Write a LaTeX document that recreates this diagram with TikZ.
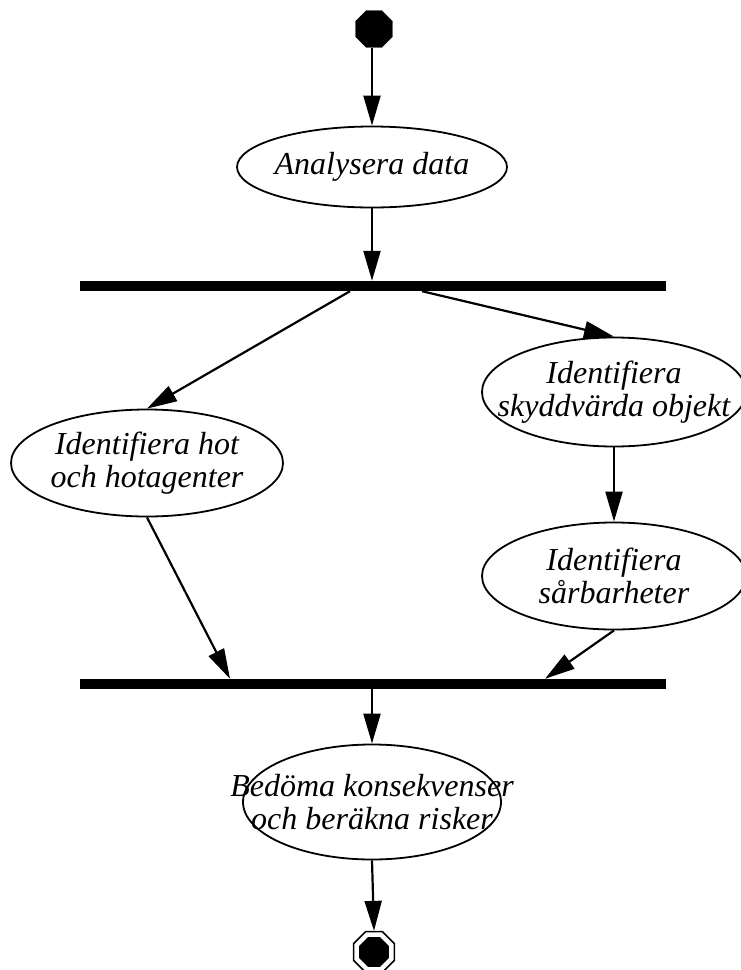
\documentclass[tikz,border=0pt]{standalone}
\usepackage{fontspec}
\setmainfont{Liberation Serif}
\usetikzlibrary{shapes.geometric,arrows.meta,calc}
\begin{document}
\begin{tikzpicture}[x=1pt,y=-1pt,
  % the outline size is fixed by minimum width/height; the text may run over it
  activity/.style={ellipse,draw,line width=1.8pt,inner xsep=-90pt,inner ysep=-30pt,
    font=\fontsize{32}{33}\selectfont\itshape,align=center},
  syncbar/.style={rectangle,fill=black,inner sep=0pt,minimum width=586pt,minimum height=10pt},
  flow/.style={line width=2.2pt,-{Triangle[length=30pt,width=17pt]}},
  startnode/.style={regular polygon,regular polygon sides=8,fill=black,draw,
    minimum size=40pt,inner sep=0pt},
]
\useasboundingbox (0,0) rectangle (741,970);

\node[startnode] (start) at (374,29) {};
\node[activity,minimum width=270pt,minimum height=81pt] (analys) at (372,167) {Analysera data};
\node[syncbar] (fork) at (373,286) {};
\node[activity,minimum width=272pt,minimum height=107pt] (hot) at (147,463) {Identifiera hot\\och hotagenter};
\node[activity,minimum width=264pt,minimum height=109pt] (skydd) at (614,392) {Identifiera\\skyddvärda objekt};
\node[activity,minimum width=264pt,minimum height=107pt] (sarb) at (614,576) {Identifiera\\sårbarheter};
\node[syncbar] (join) at (373,684) {};
\node[activity,minimum width=258pt,minimum height=115pt] (bedom) at (372,802) {Bedöma konsekvenser\\och beräkna risker};

% end state: ring round a filled octagon
\node[regular polygon,regular polygon sides=8,draw,line width=1.6pt,
  minimum size=44pt,inner sep=0pt] (stop) at (374,952) {};
\node[regular polygon,regular polygon sides=8,fill=black,
  minimum size=32pt,inner sep=0pt] (stopcore) at (stop.center) {};

\draw[flow] (start.south -| 372,0) -- (analys.north);
\draw[flow] (analys.south) -- (fork.north -| analys.south);
\draw[flow] (fork.south -| 350,0) -- (hot.north);
\draw[flow] (fork.south -| 422,0) -- (skydd.north);
\draw[flow] (skydd.south) -- (sarb.north);
\draw[flow] (hot.south) -- (join.north -| 230,0);
\draw[flow] (sarb.south) -- (join.north -| 545,0);
\draw[flow] (join.south -| bedom.north) -- (bedom.north);
\draw[flow] (bedom.south) -- (stop.north);
\end{tikzpicture}
\end{document}
